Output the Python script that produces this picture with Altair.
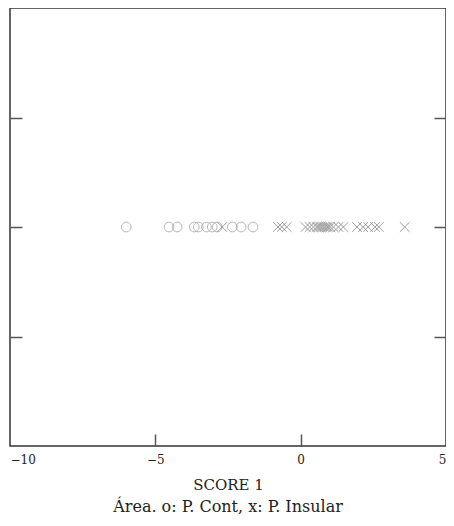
import altair as alt
import pandas as pd

cont_scores = [-6.0, -4.53, -4.25, -3.66, -3.52, -3.24, -3.04, -2.87, -2.35, -2.05, -1.64]
insular_scores = [-2.7, -0.78, -0.65, -0.48, 0.17, 0.31, 0.44, 0.55, 0.61, 0.68, 0.75,
                  0.82, 0.89, 0.95, 1.02, 1.13, 1.30, 1.47, 1.94, 2.15, 2.32, 2.56, 2.69, 3.58]
groups = ["P. Cont", "P. Insular"]

df = pd.DataFrame({
    "score": cont_scores + insular_scores,
    "y": [0.0] * (len(cont_scores) + len(insular_scores)),
    "area": [groups[0]] * len(cont_scores) + [groups[1]] * len(insular_scores),
})

FONT = "DejaVu Serif"
xscale = alt.Scale(domain=[-10, 5], nice=False, zero=False)
yscale = alt.Scale(domain=[-1, 1], nice=False, zero=False)
xmark = "M-1,-1L1,1M-1,1L1,-1"

points = alt.Chart(df).mark_point(filled=False, strokeWidth=1, size=95).encode(
    x=alt.X("score:Q", scale=xscale,
            axis=alt.Axis(values=[-10, -5, 0, 5], ticks=False, domain=False, grid=False,
                          title="SCORE 1", labelFont=FONT, titleFont=FONT,
                          labelFontSize=12, titleFontSize=15, titleFontWeight="normal",
                          labelColor="#222", titleColor="#222", labelPadding=8,
                          titlePadding=12, labelFlush=True)),
    y=alt.Y("y:Q", scale=yscale,
            axis=alt.Axis(orient="left", values=[-0.5, 0, 0.5], labels=False, domain=False,
                          grid=False, title=None, tickSize=12, offset=-12,
                          tickColor="#555", tickWidth=1.5)),
    shape=alt.Shape("area:N", scale=alt.Scale(domain=groups, range=["circle", xmark]), legend=None),
    color=alt.Color("area:N", scale=alt.Scale(domain=groups, range=["#9a9a9a", "#777777"]), legend=None),
)

ticks = alt.Chart(df).mark_point(opacity=0).encode(
    x=alt.X("score:Q", scale=xscale,
            axis=alt.Axis(orient="bottom", values=[-5, 0], labels=False, domain=False, grid=False,
                          title=None, tickSize=12, offset=-12, tickColor="#555", tickWidth=1.5)),
    y=alt.Y("y:Q", scale=yscale,
            axis=alt.Axis(orient="right", values=[-0.5, 0, 0.5], labels=False, domain=False,
                          grid=False, title=None, tickSize=12, offset=-12,
                          tickColor="#555", tickWidth=1.5)),
)

chart = alt.layer(points, ticks).resolve_axis(x="independent", y="independent").properties(
    width=436, height=438,
    autosize=alt.AutoSizeParams(type="none"),
    padding={"left": 2, "top": 0, "right": 0, "bottom": 72},
    title=alt.TitleParams("Área. o: P. Cont, x: P. Insular", orient="bottom", anchor="middle",
                          font=FONT, fontSize=16, fontWeight="normal", color="#222", offset=7),
).configure_view(stroke="#333", strokeWidth=1.5)

chart.save("out.html", embed_options={"renderer": "svg", "actions": False})
